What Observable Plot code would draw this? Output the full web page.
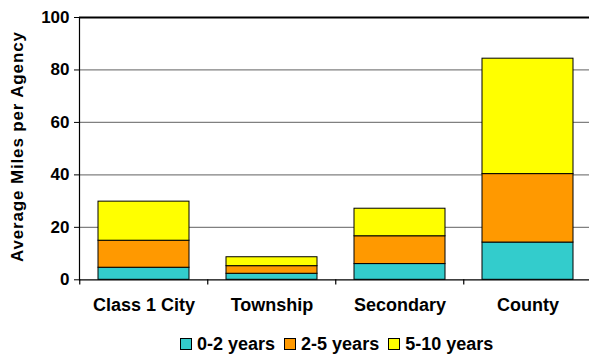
<!DOCTYPE html>
<html>
<head>
<meta charset="utf-8">
<script src="https://cdn.jsdelivr.net/npm/d3@7"></script>
<script src="https://cdn.jsdelivr.net/npm/@observablehq/plot@0.6"></script>
<style>
  html, body { margin: 0; padding: 0; background: #fff; }
  body { width: 589px; height: 355px; overflow: hidden; font-family: "Liberation Sans", Arial, sans-serif; font-weight: bold; position: relative; }
  #legend { position: absolute; left: 180px; top: 333px; display: flex; align-items: center; font-size: 18px; font-weight: bold; height: 22px; white-space: nowrap; }
  .item { display: flex; align-items: center; margin-right: 9px; }
  .sw { width: 10px; height: 10px; border: 1px solid #000; margin-right: 5px; }
  svg { overflow: visible; }
</style>
</head>
<body>
<div id="chart"></div>
<div id="legend"></div>
<script>
const categories = ["Class 1 City", "Township", "Secondary", "County"];
const seriesNames = ["0-2 years", "2-5 years", "5-10 years"];
const values02 = [4.6, 2.3, 6.0, 14.2];
const values25 = [10.3, 2.9, 10.6, 26.1];
const values510 = [14.9, 3.4, 10.5, 44.0];
const yTicks = [0, 20, 40, 60, 80, 100];
const yLabel = "Average Miles per Agency";
const colors = ["#33CCCC", "#FF9900", "#FFFF00"];

const seriesValues = [values02, values25, values510];
const data = [];
categories.forEach((c, i) => {
  seriesNames.forEach((s, j) => {
    data.push({category: c, series: s, value: seriesValues[j][i]});
  });
});

const W = 589, H = 328, mL = 79, mR = -4;
const step = (W - mL - mR) / categories.length;

const chart = Plot.plot({
  width: W,
  height: H,
  marginLeft: mL,
  marginRight: mR,
  marginTop: 17,
  marginBottom: H - 279.3,
  style: {fontFamily: "'Liberation Sans', Arial, sans-serif", fontWeight: "bold", color: "#000", background: "#fff"},
  x: {domain: categories, paddingInner: 0.287, paddingOuter: 0.1435, label: null},
  y: {domain: [0, 100], ticks: yTicks},
  color: {domain: seriesNames, range: colors},
  marks: [
    Plot.ruleY(yTicks.filter(d => d > 0 && d < 100), {stroke: "#808080", strokeWidth: 1.3}),
    Plot.barY(data, Plot.stackY({x: "category", y: "value", fill: "series", stroke: "#000", strokeWidth: 1, order: seriesNames})),
    Plot.ruleY([100], {stroke: "#000", strokeWidth: 2}),
    Plot.ruleY([0], {stroke: "#000", strokeWidth: 1.2}),
    Plot.frame({anchor: "left", stroke: "#000", strokeWidth: 1.2}),
    Plot.ruleX(categories, {x: d => d, y1: 0, y2: -2, dx: -step / 2, stroke: "#000", strokeWidth: 1.2}),
    Plot.axisY({ticks: yTicks, tickSize: 5, tickPadding: 5, fontSize: 17, fontWeight: "bold", label: null}),
    Plot.axisX({tickSize: 0, tickPadding: 18, fontSize: 18, fontWeight: "bold", label: null}),
    Plot.text([yLabel], {text: d => d, frameAnchor: "left", textAnchor: "middle", rotate: -90, dx: -62, dy: -2, fontSize: 17, fontWeight: "bold", fill: "#000"})
  ]
});
document.getElementById("chart").appendChild(chart);

// widen the y label's letter spacing to match the reference extent
chart.querySelectorAll("text").forEach(t => {
  if (t.textContent === yLabel) {
    t.style.letterSpacing = "0.85px";
  }
});

const legend = document.getElementById("legend");
seriesNames.forEach((s, i) => {
  const item = document.createElement("div");
  item.className = "item";
  const sw = document.createElement("div");
  sw.className = "sw";
  sw.style.background = colors[i];
  const lab = document.createElement("span");
  lab.textContent = s;
  item.appendChild(sw);
  item.appendChild(lab);
  legend.appendChild(item);
});
</script>
</body>
</html>
